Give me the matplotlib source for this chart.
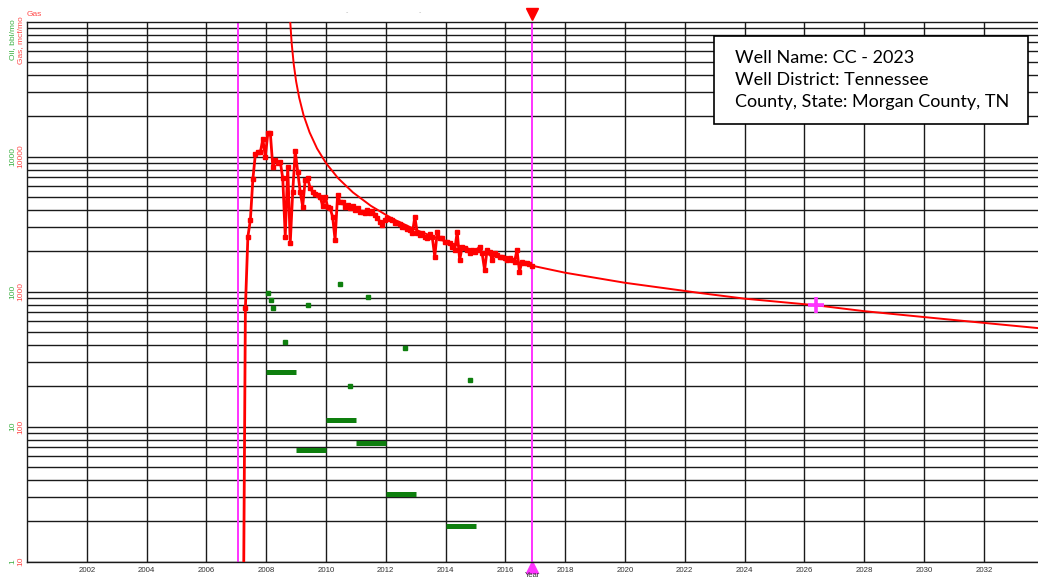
import numpy as np
import matplotlib
matplotlib.use('Agg')
import matplotlib.pyplot as plt
from matplotlib.patches import Rectangle

# monthly gas volumes, mcf/mo, starting March 2007
gas_start = 2007.22
gas_monthly = [1, 752, 2546, 3388, 6780, 10380, 10860, 10740, 13490, 9970, 14860,
               15000, 8400, 9410, 8900, 9150, 6900, 2546, 8400, 2275, 5480,
               11000, 7710, 5480, 4250, 6700, 6900, 5810, 5480, 5270, 5190,
               5040, 4300, 5040, 4250, 4130, 3580, 2405, 5190, 4580, 4580,
               4250, 4370, 4130, 4300, 4020, 4130, 3900, 3900, 3800, 4020,
               3800, 3970, 3690, 3490, 3290, 3110, 3390, 3490, 3430, 3390,
               3200, 3200, 3160, 3020, 2990, 2906, 2857, 2700, 3580, 2700,
               2625, 2700, 2546, 2478, 2680, 2514, 1811, 2773, 2478, 2478,
               2339, 2339, 2275, 2147, 2029, 2773, 1710, 2147, 2089, 2029,
               1919, 2029, 1973, 2029, 2147, 1919, 1442, 2029, 1973, 1710,
               1919, 1864, 1811, 1811, 1762, 1710, 1762, 1710, 1663, 2029,
               1402, 1663, 1635, 1618, 1600, 1545]

# oil, bbl/mo: single reports and yearly averages
oil_spot_year = [2008.07, 2008.15, 2008.24, 2008.64, 2009.39, 2010.47, 2010.81, 2011.39, 2012.64, 2014.82]
oil_spot = [97, 87, 76, 42, 80, 114, 20, 91, 38, 22]
oil_avg_year = [2008, 2009, 2010, 2011, 2012, 2014]
oil_avg = [25.2, 6.7, 11.2, 7.6, 3.16, 1.83]

# gas decline curve + forecast
forecast_year = [2008.78, 2008.80, 2008.85, 2008.92, 2009.0, 2009.1, 2009.25, 2009.45,
                 2009.7, 2010.0, 2010.4, 2010.9, 2011.5, 2012.2, 2013.0, 2014.0,
                 2015.0, 2016.0, 2016.89, 2018.0, 2020.0, 2022.5, 2024.0, 2026.4,
                 2028.0, 2031.0, 2033.8]
forecast_gas = [126000, 102000, 69500, 48300, 36000, 27400, 20200, 15100,
                11460, 8930, 6920, 5420, 4310, 3480, 2865, 2350,
                1995, 1735, 1553, 1377, 1160, 975, 885, 790,
                715, 615, 536]

first_prod = 2007.06
forecast_date = 2016.89
eur_year, eur_gas = 2026.4, 790

RED = '#ff0000'
MAGENTA = '#ff33ff'
GREEN = '#0e7f0e'
GREEN_TXT = '#3cb043'
RED_TXT = '#ff4a4a'

plt.rcParams['font.family'] = ['Liberation Sans', 'DejaVu Sans']

fig = plt.figure(figsize=(10.38, 5.77), dpi=100)
ax = fig.add_axes([27 / 1038, 1 - 561.5 / 577, 1011 / 1038, 540 / 577])
ax.set_yscale('log')
ax.set_xlim(2000, 2033.81)
ax.set_ylim(10, 100000)

# grid: every log step horizontally, every two years vertically
for dec in [10, 100, 1000, 10000]:
    for k in range(1, 10):
        ax.axhline(dec * k, color='#1a1a1a', lw=1.0, zorder=1)
for yr in range(2002, 2034, 2):
    ax.axvline(yr, color='#1a1a1a', lw=1.0, zorder=1)

ax.axvline(first_prod, color=MAGENTA, lw=1.4, zorder=2)
ax.axvline(forecast_date, color=MAGENTA, lw=1.4, zorder=2)

years = gas_start + np.arange(len(gas_monthly)) / 12
ax.plot(forecast_year, forecast_gas, color=RED, lw=1.4, zorder=3)
ax.plot(years, gas_monthly, color=RED, lw=2.0, marker='s', ms=3.2, mec=RED, zorder=4)

# oil is read on the inner scale (gas / 10)
ax.plot(oil_spot_year, np.array(oil_spot) * 10, 's', color=GREEN, ms=3.5, zorder=4)
for y0, v in zip(oil_avg_year, oil_avg):
    ax.plot([y0, y0 + 1], [v * 10, v * 10], color=GREEN, lw=3.6, solid_capstyle='butt', zorder=4)

ax.plot(eur_year, eur_gas, '+', color=MAGENTA, ms=11, mew=2.6, zorder=5)

ax.plot(forecast_date, 1.013, 'v', color=RED, ms=9, transform=ax.get_xaxis_transform(), clip_on=False)
ax.plot(forecast_date, -0.011, '^', color=MAGENTA, ms=9, transform=ax.get_xaxis_transform(), clip_on=False)
ax.text(forecast_date, -0.019, 'Year', ha='center', va='top', fontsize=5.5, color='#333333',
        transform=ax.get_xaxis_transform())
for yr in [2010.7, 2013.15]:
    ax.text(yr, 1.016, '-', ha='center', va='center', fontsize=5, color='#bbbbbb',
            transform=ax.get_xaxis_transform())

for sp in ['left', 'bottom', 'top']:
    ax.spines[sp].set_color('#1a1a1a')
    ax.spines[sp].set_linewidth(1.0)
ax.spines['right'].set_visible(False)

ax.set_xticks(range(2002, 2034, 2))
ax.set_xticklabels([str(y) for y in range(2002, 2034, 2)], fontsize=5.7, color='#333333')
ax.tick_params(axis='x', length=0, pad=4)
ax.set_yticks([])
ax.minorticks_off()
ax.set_yticks([], minor=True)

# paired scales on the left: oil (green) and gas (red)
ytr = ax.get_yaxis_transform()
for oil_lab, gas_val in [('1', 10), ('10', 100), ('100', 1000), ('1000', 10000)]:
    ax.text(-14.5 / 1011, gas_val, oil_lab, rotation=90, ha='center', va='center',
            fontsize=6, color=GREEN_TXT, transform=ytr)
    ax.text(-6 / 1011, gas_val, str(gas_val), rotation=90, ha='center', va='center',
            fontsize=6, color=RED_TXT, transform=ytr)

fig.text(12.5 / 1038, 1 - 40 / 577, 'Oil, bbl/mo', rotation=90, ha='center', va='center',
         fontsize=6, color=GREEN_TXT)
fig.text(21 / 1038, 1 - 40 / 577, 'Gas, mcf/mo', rotation=90, ha='center', va='center',
         fontsize=6, color=RED_TXT)
fig.text(27 / 1038, 1 - 14.5 / 577, 'Gas', ha='left', va='center', fontsize=6, color=RED_TXT)

# well info box
fig.patches.append(Rectangle((714 / 1038, 1 - 124 / 577), 314 / 1038, 88 / 577,
                             transform=fig.transFigure, facecolor='white',
                             edgecolor='black', lw=1.2, zorder=10))
info = ['Well Name: CC - 2023', 'Well District: Tennessee', 'County, State: Morgan County, TN']
for i, line in enumerate(info):
    fig.text(735 / 1038, 1 - (58 + 22 * i) / 577, line, ha='left', va='center',
             fontsize=13, family='Lato', color='black', zorder=11)

fig.savefig('out.png', dpi=100)
